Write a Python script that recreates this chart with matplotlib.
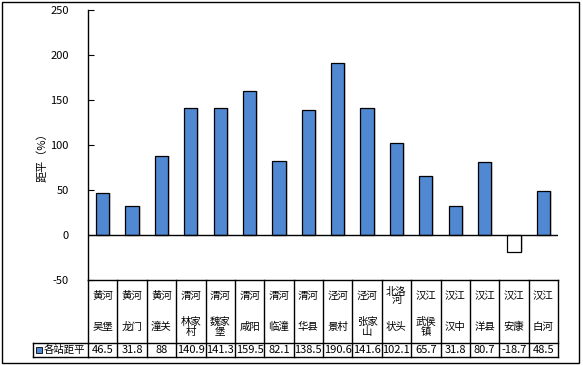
import matplotlib
matplotlib.use("Agg")
import matplotlib.pyplot as plt
from matplotlib.transforms import blended_transform_factory
from matplotlib.patches import Rectangle
from matplotlib.lines import Line2D

plt.rcParams['font.family'] = ['Noto Sans CJK SC', 'DejaVu Sans']

rivers = ['黄河', '黄河', '黄河', '渭河', '渭河', '渭河', '渭河', '渭河',
          '泾河', '泾河', '北洛\n河', '汉江', '汉江', '汉江', '汉江', '汉江']
stations = ['吴堡', '龙门', '潼关', '林家\n村', '魏家\n堡', '咸阳', '临潼', '华县',
            '景村', '张家\n山', '状头', '武侯\n镇', '汉中', '洋县', '安康', '白河']
values = [46.5, 31.8, 88, 140.9, 141.3, 159.5, 82.1, 138.5,
          190.6, 141.6, 102.1, 65.7, 31.8, 80.7, -18.7, 48.5]
value_labels = ['46.5', '31.8', '88', '140.9', '141.3', '159.5', '82.1', '138.5',
                '190.6', '141.6', '102.1', '65.7', '31.8', '80.7', '-18.7', '48.5']
series_name = '各站距平'
y_ticks = [-50, 0, 50, 100, 150, 200, 250]

W, H = 583, 365
fig = plt.figure(figsize=(W / 100, H / 100), dpi=100)

def fy(py):
    return (H - py) / H

def fx(px):
    return px / W

# outer border
fig.patches.append(Rectangle((fx(2), fy(363)), fx(579) - fx(2), fy(2) - fy(363),
                             transform=fig.transFigure, fill=False, edgecolor='black',
                             linewidth=1.0))

ax = fig.add_axes([fx(88), fy(280), fx(558) - fx(88), fy(10) - fy(280)])
n = len(values)
x = list(range(n))
colors = ['#5088D2' if v >= 0 else 'white' for v in values]
# soft shadow
ax.bar([i + 0.07 for i in x], values, width=0.45, color='#d4d4d4', zorder=1)
ax.bar(x, values, width=0.45, color=colors, edgecolor='black', linewidth=0.9, zorder=2)
ax.axhline(0, color='black', linewidth=1.0, zorder=3)
ax.set_xlim(-0.5, n - 0.5)
ax.set_ylim(-50, 250)
ax.set_yticks(y_ticks)
ax.set_yticklabels([str(t) for t in y_ticks])
ax.tick_params(axis='y', direction='in', length=4, labelsize=8, pad=14)
ax.set_xticks([])
for s in ['top', 'right', 'bottom']:
    ax.spines[s].set_visible(False)
ax.spines['left'].set_linewidth(1.0)
ax.text(fx(42), fy(155), '距平（%）', transform=fig.transFigure, rotation=90,
        ha='center', va='center', fontsize=8)

tr = blended_transform_factory(ax.transData, fig.transFigure)

def hline(x0, x1, py, trans=tr):
    fig.lines.append(Line2D([x0, x1], [fy(py), fy(py)], transform=trans,
                            color='black', linewidth=1.0))

def vline(xv, p0, p1, trans=tr):
    fig.lines.append(Line2D([xv, xv], [fy(p0), fy(p1)], transform=trans,
                            color='black', linewidth=1.0))

hline(-0.5, n - 0.5, 280)
hline(-0.5, n - 0.5, 343)
hline(-0.5, n - 0.5, 357)
for i in range(n + 1):
    vline(i - 0.5, 280, 357)
tf = fig.transFigure
fig.lines.append(Line2D([fx(33), fx(88)], [fy(343), fy(343)], transform=tf, color='black', linewidth=1.0))
fig.lines.append(Line2D([fx(33), fx(88)], [fy(357), fy(357)], transform=tf, color='black', linewidth=1.0))
fig.lines.append(Line2D([fx(33), fx(33)], [fy(343), fy(357)], transform=tf, color='black', linewidth=1.0))

for i in range(n):
    ax.text(i, fy(296), rivers[i], transform=tr, ha='center', va='center',
            fontsize=7.5, linespacing=0.85)
    ax.text(i, fy(327), stations[i], transform=tr, ha='center', va='center',
            fontsize=7.5, linespacing=0.95)
    ax.text(i, fy(350), value_labels[i], transform=tr, ha='center', va='center',
            fontsize=8)

# legend key
fig.patches.append(Rectangle((fx(36), fy(353)), fx(6), fy(347) - fy(353),
                             transform=tf, facecolor='#5088D2', edgecolor='black',
                             linewidth=0.6))
fig.text(fx(44), fy(350), series_name, ha='left', va='center', fontsize=7.5)

fig.savefig('out.png', dpi=100)
